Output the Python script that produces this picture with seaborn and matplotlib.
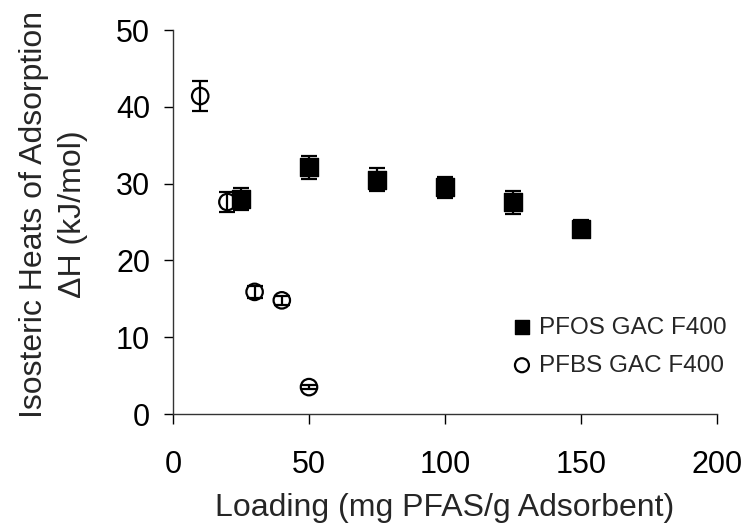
import matplotlib
matplotlib.use("Agg")
import matplotlib.pyplot as plt
import seaborn as sns
import pandas as pd

# Data
pfos_loading = [25, 50, 75, 100, 125, 150]
pfos_heat = [28.0, 32.1, 30.5, 29.5, 27.6, 24.1]
pfos_err = [1.4, 1.5, 1.5, 1.35, 1.5, 1.1]

pfbs_loading = [10, 20, 30, 40, 50]
pfbs_heat = [41.4, 27.6, 15.9, 14.8, 3.5]
pfbs_err = [2.0, 1.3, 0.8, 0.6, 0.3]

series_labels = ["PFOS GAC F400", "PFBS GAC F400"]
x_ticks = [0, 50, 100, 150, 200]
y_ticks = [0, 10, 20, 30, 40, 50]

sns.set_theme(style="ticks")
plt.rcParams["font.family"] = ["Liberation Sans", "DejaVu Sans"]

pfos_df = pd.DataFrame({"loading": pfos_loading, "heat": pfos_heat, "err": pfos_err})
pfbs_df = pd.DataFrame({"loading": pfbs_loading, "heat": pfbs_heat, "err": pfbs_err})

fig = plt.figure(figsize=(7.51, 5.29), dpi=100)
ax = fig.add_axes([173 / 751, 115 / 529, 544 / 751, 384 / 529])

# error bars
ax.errorbar(pfos_df["loading"], pfos_df["heat"], yerr=pfos_df["err"], fmt="none",
            ecolor="black", elinewidth=1.6, capsize=6, capthick=1.6, zorder=2)
ax.errorbar(pfbs_df["loading"], pfbs_df["heat"], yerr=pfbs_df["err"], fmt="none",
            ecolor="black", elinewidth=1.6, capsize=6, capthick=1.6, zorder=2)

sns.scatterplot(data=pfos_df, x="loading", y="heat", marker="s", s=150,
                color="black", edgecolor="black", linewidth=1, label=series_labels[0],
                ax=ax, zorder=3)
sns.scatterplot(data=pfbs_df, x="loading", y="heat", marker="o", s=140,
                facecolor="none", edgecolor="black", linewidth=1.6, label=series_labels[1],
                ax=ax, zorder=3)

ax.set_xlim(0, 200)
ax.set_ylim(0, 50)
ax.set_xticks(x_ticks)
ax.set_yticks(y_ticks)
ax.tick_params(axis="both", direction="out", labelsize=22, colors="black", width=1)
ax.tick_params(axis="x", length=7, pad=19)
ax.tick_params(axis="y", length=6.5, pad=10)
for side in ["top", "right"]:
    ax.spines[side].set_visible(False)
for side in ["left", "bottom"]:
    ax.spines[side].set_color("#333333")
    ax.spines[side].set_linewidth(1)

ax.set_xlabel("Loading (mg PFAS/g Adsorbent)", fontsize=23, labelpad=9)
ax.set_ylabel("Isosteric Heats of Adsorption\n\u0394H (kJ/mol)", fontsize=23,
              linespacing=1.4)
ax.yaxis.set_label_coords(-0.156, 0.52)

leg = ax.legend(loc="lower left", bbox_to_anchor=(0.599, 0.072), frameon=False,
                fontsize=17.5, handletextpad=0.15, labelspacing=0.65, markerscale=0.85,
                handlelength=1.1, borderaxespad=0)

fig.savefig("out.png", dpi=100, facecolor="white")
